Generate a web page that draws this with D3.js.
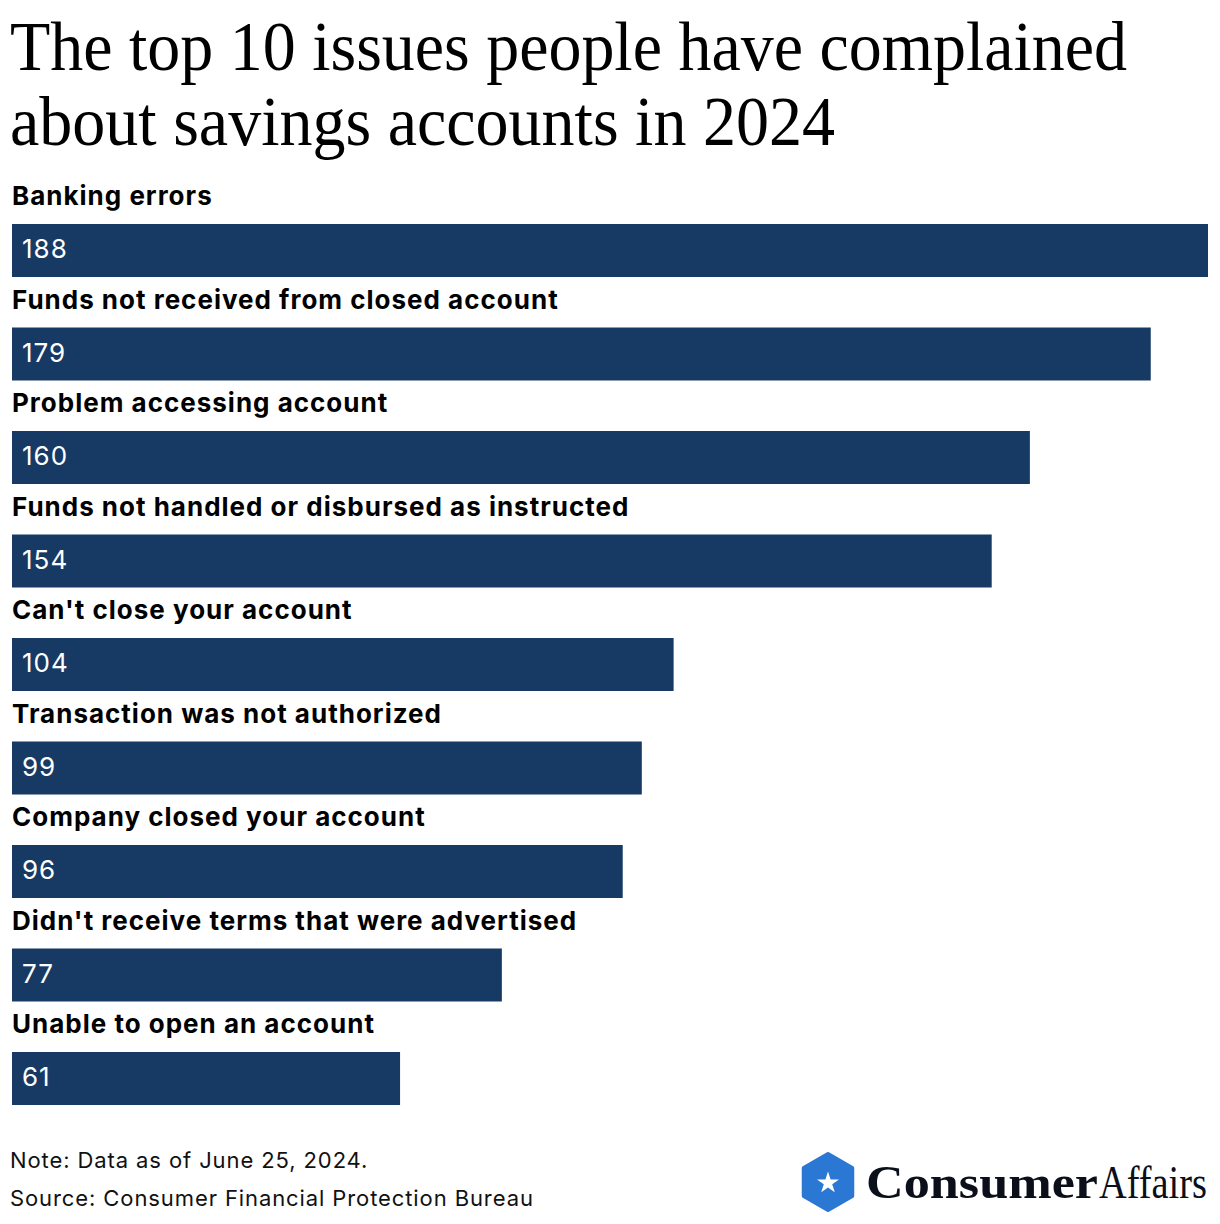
<!DOCTYPE html>
<html><head><meta charset="utf-8">
<script src="https://cdn.jsdelivr.net/npm/d3@7"></script>
<style>body{margin:0;background:#fff}svg{display:block}</style>
</head><body>
<script>
const categories = ["Banking errors","Funds not received from closed account","Problem accessing account","Funds not handled or disbursed as instructed","Can't close your account","Transaction was not authorized","Company closed your account","Didn't receive terms that were advertised","Unable to open an account"];
const values = [188,179,160,154,104,99,96,77,61];
const titleLines = ["The top 10 issues people have complained","about savings accounts in 2024"];
const noteLines = ["Note: Data as of June 25, 2024.","Source: Consumer Financial Protection Bureau"];

const W=1220,H=1224;
const svg=d3.select("body").append("svg").attr("width",W).attr("height",H);
svg.append("rect").attr("width",W).attr("height",H).attr("fill","#fff");

const x=d3.scaleLinear().domain([0,188]).range([12,1208]);
const y=d3.scalePoint().domain(categories).range([224,1052]);
const barH=53;

// title
const tl=[1117,825];
svg.selectAll("text.title").data(titleLines).join("text").attr("class","title")
 .attr("x",10).attr("y",(d,i)=>70+i*75)
 .attr("font-family","Liberation Serif, serif").attr("font-size",70).attr("fill","#000")
 .attr("textLength",(d,i)=>tl[i]).attr("lengthAdjust","spacingAndGlyphs").text(d=>d);

const g=svg.append("g");
const data=categories.map((c,i)=>({c,v:values[i]}));
g.selectAll("rect.bar").data(data).join("rect").attr("class","bar")
 .attr("x",x(0)).attr("y",d=>y(d.c)).attr("width",d=>x(d.v)-x(0)).attr("height",barH).attr("fill","#173a65");
g.selectAll("text.lab").data(data).join("text").attr("class","lab")
 .attr("x",12).attr("y",d=>y(d.c)-19)
 .attr("font-family","Inter, sans-serif").attr("font-weight",700).attr("font-size",26).attr("letter-spacing",1).attr("fill","#000").text(d=>d.c);
g.selectAll("text.val").data(data).join("text").attr("class","val")
 .attr("x",22).attr("y",d=>y(d.c)+34)
 .attr("font-family","Inter, sans-serif").attr("font-size",26).attr("letter-spacing",1).attr("fill","#fff").text(d=>d.v);

svg.selectAll("text.note").data(noteLines).join("text").attr("class","note")
 .attr("x",10).attr("y",(d,i)=>1168+i*38)
 .attr("font-family","Inter, sans-serif").attr("font-size",22).attr("letter-spacing",0.9).attr("fill","#111").text(d=>d);

// logo
const lg=svg.append("g").attr("transform","translate(828,1182)");
const hex=d3.range(6).map(i=>{const a=Math.PI/3*i+Math.PI/6;return [28*Math.cos(a),28*Math.sin(a)];});
lg.append("path").attr("d",d3.line().curve(d3.curveLinearClosed)(hex)).attr("fill","#2b78d4").attr("stroke","#2b78d4").attr("stroke-width",4).attr("stroke-linejoin","round");
lg.append("path").attr("d",d3.symbol(d3.symbolStar,150)()).attr("fill","#fff").attr("transform","translate(0,1)");
const logo=svg.append("g").attr("transform","translate(0,1198) scale(1,1.15)");
logo.append("text").attr("x",866).attr("y",0).attr("font-family","Liberation Serif, serif").attr("font-size",40).attr("font-weight",900).attr("fill","#0a0f1a")
 .attr("textLength",232).attr("lengthAdjust","spacingAndGlyphs").text("Consumer");
logo.append("text").attr("x",1099).attr("y",0).attr("font-family","Liberation Serif, serif").attr("font-size",40).attr("fill","#0a0f1a")
 .attr("textLength",108).attr("lengthAdjust","spacingAndGlyphs").text("Affairs");
</script>
</body></html>
